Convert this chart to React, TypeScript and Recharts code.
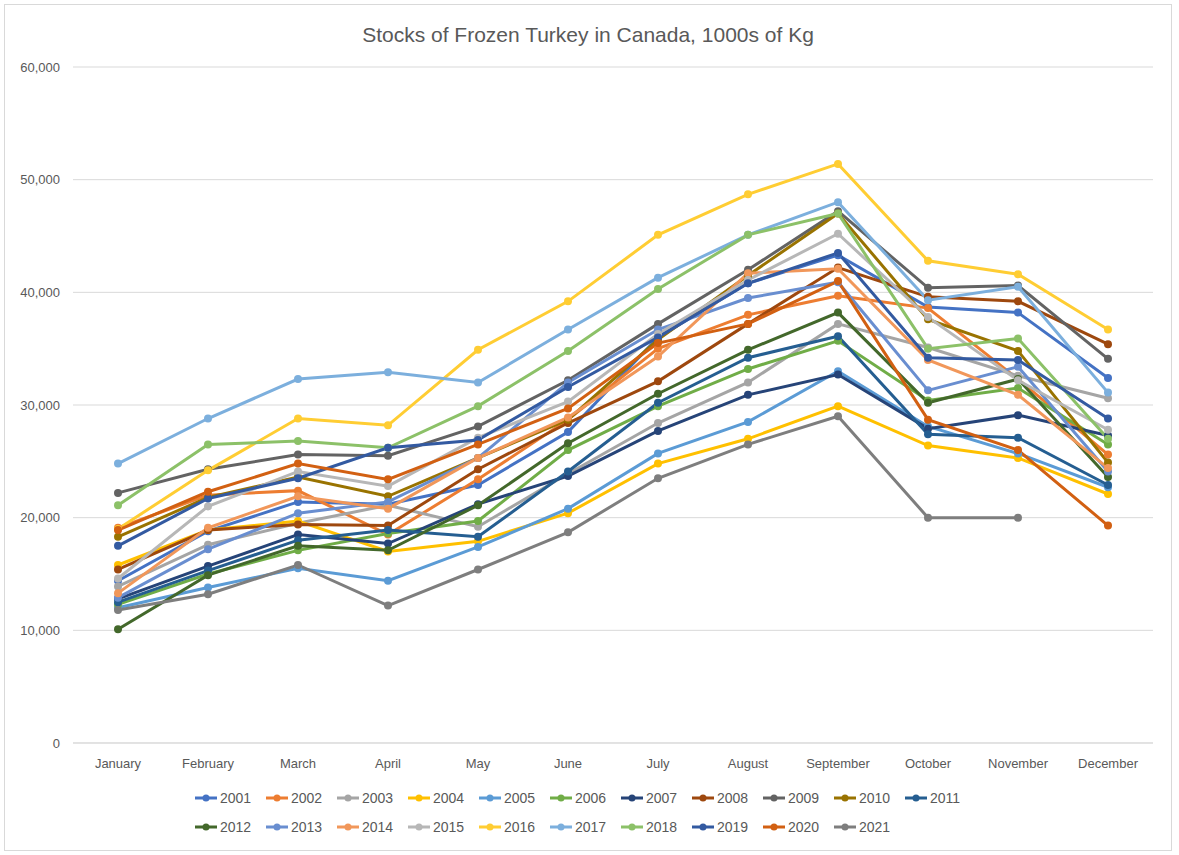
import { CartesianGrid, Line, LineChart, XAxis, YAxis } from 'recharts';

const MONTHS = [
  'January', 'February', 'March', 'April', 'May', 'June',
  'July', 'August', 'September', 'October', 'November', 'December',
];

// 1000s of kg, Jan..Dec
const Y2001 = [14400, 18800, 21400, 21200, 22900, 27600, 36000, 40800, 43300, 38700, 38200, 32400];
const Y2002 = [19100, 22000, 22400, 18500, 23400, 28700, 35000, 38000, 39700, 38600, 32300, 25600];
const Y2003 = [13900, 17600, 19500, 21100, 19200, 23900, 28400, 32000, 37200, 35100, 32600, 30600];
const Y2004 = [15800, 18900, 19700, 17000, 17900, 20400, 24800, 27000, 29900, 26400, 25300, 22100];
const Y2005 = [12000, 13800, 15500, 14400, 17400, 20800, 25700, 28500, 33000, 28100, 25700, 22700];
const Y2006 = [12300, 15000, 17100, 18600, 19700, 26000, 29900, 33200, 35700, 30400, 31500, 26500];
const Y2007 = [12800, 15700, 18500, 17700, 21200, 23700, 27700, 30900, 32700, 27900, 29100, 27300];
const Y2008 = [15400, 18900, 19400, 19300, 24300, 28400, 32100, 37200, 42200, 39600, 39200, 35400];
const Y2009 = [22200, 24300, 25600, 25500, 28100, 32200, 37200, 42000, 47200, 40400, 40600, 34100];
const Y2010 = [18300, 21800, 23600, 21900, 25300, 28700, 35800, 41500, 47000, 37600, 34800, 24900];
const Y2011 = [12500, 15300, 18000, 18900, 18300, 24100, 30200, 34200, 36100, 27400, 27100, 22900];
const Y2012 = [10100, 14900, 17500, 17100, 21100, 26600, 31000, 34900, 38200, 30200, 32300, 23600];
const Y2013 = [12900, 17200, 20400, 21400, 25300, 32000, 36700, 39500, 40900, 31300, 33400, 24100];
const Y2014 = [13300, 19100, 21900, 20800, 25300, 28900, 34300, 41700, 42100, 34000, 30900, 24400];
const Y2015 = [14600, 21000, 24100, 22800, 27100, 30300, 36300, 41100, 45200, 37800, 32200, 27800];
const Y2016 = [19000, 24200, 28800, 28200, 34900, 39200, 45100, 48700, 51400, 42800, 41600, 36700];
const Y2017 = [24800, 28800, 32300, 32900, 32000, 36700, 41300, 45100, 48000, 39300, 40500, 31100];
const Y2018 = [21100, 26500, 26800, 26200, 29900, 34800, 40300, 45100, 47000, 35000, 35900, 27000];
const Y2019 = [17500, 21700, 23500, 26200, 26900, 31600, 36000, 40800, 43500, 34200, 34000, 28800];
const Y2020 = [18900, 22300, 24800, 23400, 26500, 29700, 35500, 37200, 41000, 28700, 26000, 19300];
const Y2021 = [11800, 13200, 15800, 12200, 15400, 18700, 23500, 26500, 29000, 20000, 20000, null];

const Y_TICKS = [0, 10000, 20000, 30000, 40000, 50000, 60000];

const SERIES: { name: string; values: (number | null)[]; color: string }[] = [
  { name: '2001', values: Y2001, color: '#4472C4' },
  { name: '2002', values: Y2002, color: '#ED7D31' },
  { name: '2003', values: Y2003, color: '#A5A5A5' },
  { name: '2004', values: Y2004, color: '#FFC000' },
  { name: '2005', values: Y2005, color: '#5B9BD5' },
  { name: '2006', values: Y2006, color: '#70AD47' },
  { name: '2007', values: Y2007, color: '#264478' },
  { name: '2008', values: Y2008, color: '#9E480E' },
  { name: '2009', values: Y2009, color: '#636363' },
  { name: '2010', values: Y2010, color: '#997300' },
  { name: '2011', values: Y2011, color: '#255E91' },
  { name: '2012', values: Y2012, color: '#43682B' },
  { name: '2013', values: Y2013, color: '#698ED0' },
  { name: '2014', values: Y2014, color: '#F1975A' },
  { name: '2015', values: Y2015, color: '#B7B7B7' },
  { name: '2016', values: Y2016, color: '#FFCD33' },
  { name: '2017', values: Y2017, color: '#7CAFDD' },
  { name: '2018', values: Y2018, color: '#8CC168' },
  { name: '2019', values: Y2019, color: '#335AA1' },
  { name: '2020', values: Y2020, color: '#D26012' },
  { name: '2021', values: Y2021, color: '#7E7E7E' },
];

const chartData = MONTHS.map((month, i) => {
  const row: Record<string, string | number | null> = { month };
  SERIES.forEach((s) => {
    row[s.name] = s.values[i];
  });
  return row;
});

const TEXT = '#595959';
const FONT = '"Liberation Sans", Arial, sans-serif';

function LegendRow() {
  return (
    <div
      style={{
        position: 'absolute',
        left: 190,
        top: 783,
        width: 781,
        display: 'flex',
        flexWrap: 'wrap',
        rowGap: 9,
      }}
    >
      {SERIES.map((s) => (
        <div key={s.name} style={{ width: 71, height: 20, display: 'flex', alignItems: 'center' }}>
          <svg width={22} height={10} style={{ marginRight: 3 }}>
            <line x1={0} y1={5} x2={22} y2={5} stroke={s.color} strokeWidth={3} />
            <circle cx={11} cy={5} r={3.5} fill={s.color} />
          </svg>
          <span style={{ fontSize: 14, color: TEXT }}>{s.name}</span>
        </div>
      ))}
    </div>
  );
}

export default function App() {
  return (
    <div
      style={{
        position: 'absolute',
        left: 4,
        top: 4,
        width: 1166,
        height: 845,
        border: '1px solid #d9d9d9',
        background: '#fff',
        fontFamily: FONT,
      }}
    >
      <div
        style={{
          position: 'absolute',
          top: 17,
          width: '100%',
          textAlign: 'center',
          fontSize: 21,
          lineHeight: '26px',
          color: TEXT,
        }}
      >
        Stocks of Frozen Turkey in Canada, 1000s of Kg
      </div>
      <LineChart
        width={1166}
        height={845}
        data={chartData}
        margin={{ top: 62, right: 18, left: 0, bottom: 77 }}
        style={{ position: 'absolute', left: 0, top: 0 }}
      >
        <CartesianGrid vertical={false} stroke="#d9d9d9" strokeWidth={1} />
        <XAxis
          dataKey="month"
          padding={{ left: 45, right: 45 }}
          axisLine={{ stroke: '#d9d9d9' }}
          tickLine={false}
          tickMargin={10}
          interval={0}
          tick={{ fontSize: 13, fill: TEXT, fontFamily: FONT }}
        />
        <YAxis
          width={68}
          domain={[0, 60000]}
          ticks={Y_TICKS}
          axisLine={false}
          tickLine={false}
          tickMargin={7}
          tickFormatter={(v: number) => v.toLocaleString('en-US')}
          tick={{ fontSize: 13, fill: TEXT, fontFamily: FONT }}
        />
        {SERIES.map((s) => (
          <Line
            key={s.name}
            type="linear"
            dataKey={s.name}
            stroke={s.color}
            strokeWidth={3}
            dot={{ r: 4, fill: s.color, stroke: s.color, strokeWidth: 0 }}
            activeDot={false}
            isAnimationActive={false}
          />
        ))}
      </LineChart>
      <LegendRow />
    </div>
  );
}
